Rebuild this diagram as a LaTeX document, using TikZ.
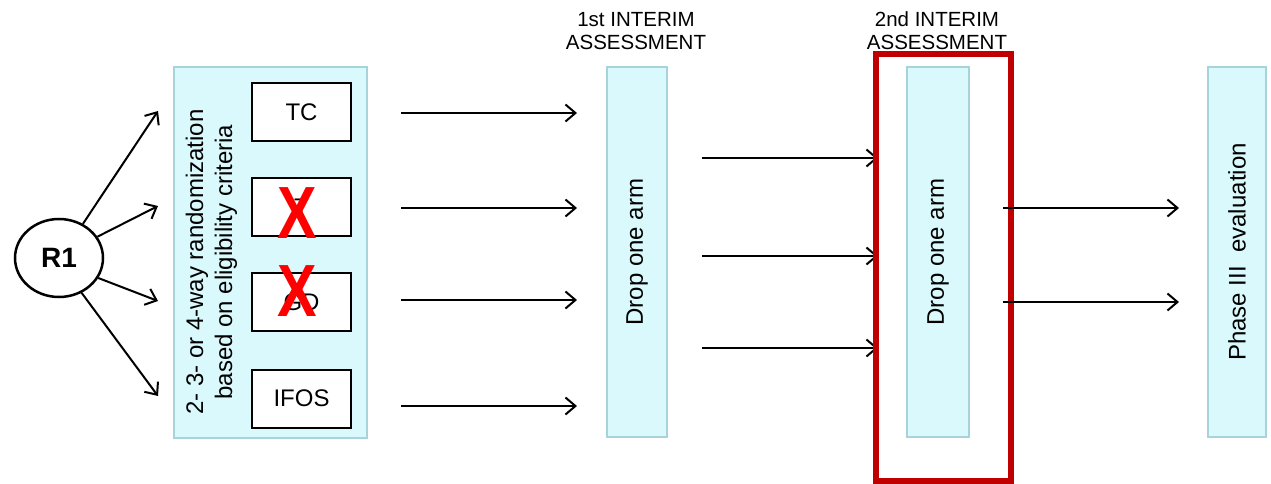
\documentclass[tikz,border=0pt]{standalone}
\usepackage{fontspec}
\setmainfont{Liberation Sans}
\usetikzlibrary{arrows.meta,shapes.geometric}
\definecolor{panelfill}{HTML}{DAF9FC}
\definecolor{panelline}{HTML}{A9D3DA}
\definecolor{dropred}{HTML}{C00000}
\definecolor{crossred}{HTML}{FF0000}
\tikzset{
  panel/.style={draw=panelline, line width=1.3pt, fill=panelfill, inner sep=0pt},
  armbox/.style={draw=black, line width=2pt, fill=white, minimum width=99pt, minimum height=58pt, inner sep=0pt, font=\fontsize{24}{24}\selectfont},
  flow/.style={line width=2pt, -{Straight Barb[length=10pt, width=17pt, line width=2pt]}},
  vlabel/.style={rotate=90, font=\fontsize{24}{29}\selectfont, align=center},
  hlabel/.style={font=\fontsize{20.5}{23}\selectfont, align=center},
  cross/.style={text=crossred, font=\bfseries\fontsize{74}{74}\selectfont, xscale=0.8, inner sep=0pt}
}
\begin{document}
\begin{tikzpicture}[x=1pt, y=-1pt]
\useasboundingbox (0,0) rectangle (1271,484);

% randomisation node
\node[draw, ellipse, line width=2.5pt, minimum width=88pt, minimum height=78pt, inner sep=0pt,
      font=\bfseries\fontsize{28}{28}\selectfont] (r1) at (59,258) {R1};

% randomisation panel with the four arms
\node[panel, minimum width=193pt, minimum height=371pt] (rand) at (270.5,252.5) {};
\node[vlabel] (randtxt) at (211.5,262) {2- 3- or 4-way randomization\\based on eligibility criteria};
\node[armbox] (tc)   at (301.5,112) {TC};
\node[armbox] (t)    at (301.5,207) {T};
\node[armbox] (gd)   at (301.5,302) {GD};
\node[armbox] (ifos) at (301.5,398.5) {IFOS};
\node[cross] (xt)  at (297,213.5) {X};
\node[cross] (xgd) at (297,291.5) {X};

% arrow ends next to the arms
\coordinate (a1) at (158,111);
\coordinate (a2) at (158,206);
\coordinate (a3) at (158,301);
\coordinate (a4) at (158,396);
\draw[flow] (r1.55)  -- (a1);
\draw[flow] (r1.29)  -- (a2);
\draw[flow] (r1.-27) -- (a3);
\draw[flow] (r1.-57) -- (a4);

% first interim assessment
\node[hlabel] (lab1) at (636,31) {1st INTERIM\\ASSESSMENT};
\node[panel, minimum width=60pt, minimum height=370pt] (int1) at (637,252) {};
\node[vlabel] (int1txt) at (637,252) {Drop one arm};

\foreach \y/\n in {113/1,208/2,300/3,406/4}{
  \coordinate (s\n) at (401,\y);
  \coordinate (e\n) at (577,\y);
  \draw[flow] (s\n) -- (e\n);
}

% second interim assessment
\node[hlabel] (lab2) at (937,31) {2nd INTERIM\\ASSESSMENT};
\node[panel, minimum width=62pt, minimum height=370pt] (int2) at (938,252) {};
\node[vlabel] (int2txt) at (938,252) {Drop one arm};

\foreach \y/\n in {158/1,256/2,348/3}{
  \coordinate (p\n) at (702,\y);
  \coordinate (q\n) at (878,\y);
  \draw[flow] (p\n) -- (q\n);
}

% highlight round the second assessment
\node[draw=dropred, line width=5.5pt, minimum width=135pt, minimum height=427pt, inner sep=0pt] (hl) at (943.5,267.5) {};

\foreach \y/\n in {208/1,302/2}{
  \coordinate (u\n) at (1003,\y);
  \coordinate (v\n) at (1179,\y);
  \draw[flow] (u\n) -- (v\n);
}

% phase III evaluation
\node[panel, minimum width=58pt, minimum height=370pt] (ph3) at (1237,252) {};
\node[vlabel] (ph3txt) at (1237,252) {Phase III\ \ evaluation};
\end{tikzpicture}
\end{document}
